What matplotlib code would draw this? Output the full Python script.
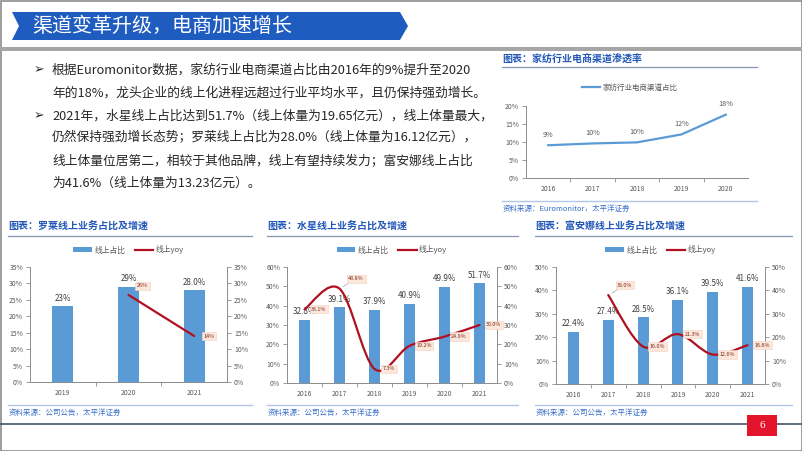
import matplotlib
matplotlib.use('Agg')
import matplotlib.pyplot as plt
from matplotlib.patches import Polygon, Rectangle, PathPatch
from matplotlib.path import Path
from matplotlib.lines import Line2D

plt.rcParams['font.family'] = ['Noto Sans CJK SC', 'DejaVu Sans']

W, H = 802, 451

# 数据
ind_years = ['2016', '2017', '2018', '2019', '2020']
ind_share = [9.1, 9.6, 9.9, 12.1, 17.6]

ll_years = ['2019', '2020', '2021']
ll_share = [23.0, 29.0, 28.0]
ll_share_lbl = ['23%', '29%', '28.0%']
ll_yoy = [None, 26.5, 14.0]
ll_yoy_lbl = ['', '26%', '14%']

sx_years = ['2016', '2017', '2018', '2019', '2020', '2021']
sx_share = [32.8, 39.1, 37.9, 40.9, 49.9, 51.7]
sx_share_lbl = ['32.8%', '39.1%', '37.9%', '40.9%', '49.9%', '51.7%']
sx_yoy = [38.1, 48.8, 7.3, 19.2, 24.0, 30.0]
sx_yoy_lbl = ['38.1%', '48.8%', '7.3%', '19.2%', '24.0%', '30.0%']

fa_years = ['2016', '2017', '2018', '2019', '2020', '2021']
fa_share = [22.4, 27.4, 28.5, 36.1, 39.5, 41.6]
fa_share_lbl = ['22.4%', '27.4%', '28.5%', '36.1%', '39.5%', '41.6%']
fa_yoy = [None, 38.0, 16.0, 21.3, 12.6, 16.6]
fa_yoy_lbl = ['', '38.0%', '16.0%', '21.3%', '12.6%', '16.6%']

bullet_lines = [
    (True, '根据Euromonitor数据，家纺行业电商渠道占比由2016年的9%提升至2020'),
    (False, '年的18%，龙头企业的线上化进程远超过行业平均水平，且仍保持强劲增长。'),
    (True, '2021年，水星线上占比达到51.7%（线上体量为19.65亿元），线上体量最大，'),
    (False, '仍然保持强劲增长态势；罗莱线上占比为28.0%（线上体量为16.12亿元），'),
    (False, '线上体量位居第二，相较于其他品牌，线上有望持续发力；富安娜线上占比'),
    (False, '为41.6%（线上体量为13.23亿元）。'),
]

BAR_C = '#5B9BD5'
LINE_C = '#B01020'
TITLE_C = '#2358B8'
SRC_C = '#3A6FC8'
TICK_C = '#595959'
AX_C = '#8C8C8C'

fig = plt.figure(figsize=(W / 100, H / 100), dpi=100)

# 背景层，像素坐标
bg = fig.add_axes([0, 0, 1, 1])
bg.set_xlim(0, W)
bg.set_ylim(H, 0)
bg.axis('off')
bg.set_zorder(-5)

bg.add_patch(Rectangle((0.5, 0.5), W - 1, H - 1, fill=False, ec='#8C8C8C', lw=1.2))
bg.add_patch(Polygon([(12, 12), (400, 12), (408, 26), (400, 40), (12, 40), (19, 26)],
                     closed=True, fc='#1F5CC0', ec='none'))
bg.text(32, 26, '渠道变革升级，电商加速增长', color='white', fontsize=14.4, va='center', ha='left')
bg.add_patch(Rectangle((0, 46.5), W, 4.3, fc='#A6A6A6', ec='none'))
bg.plot([0, W], [424, 424], color='#44546A', lw=1.2)

# 要点文字
ys = [70, 93, 116, 138, 161, 183]
for (has_bullet, txt), yy in zip(bullet_lines, ys):
    if has_bullet:
        bg.text(34, yy, '➢', fontsize=9, va='center', ha='left', color='#262626',
                family=['DejaVu Sans'])
    bg.text(52, yy, txt, fontsize=9.2, va='center', ha='left', color='#262626')

title_map = {
    (502, 59): '图表：家纺行业电商渠道渗透率',
    (8, 227): '图表：罗莱线上业务占比及增速',
    (267, 227): '图表：水星线上业务占比及增速',
    (535, 227): '图表：富安娜线上业务占比及增速',
}


# 图表标题、分隔线、来源
def chart_frame(x0, x1, ty, uy, sy, src):
    bg.text(x0, ty, title_map[(x0, ty)], fontsize=7.2, fontweight='bold', color=TITLE_C,
            va='center', ha='left')
    bg.plot([x0, x1], [uy, uy], color='#8497B0', lw=0.9)
    bg.plot([x0, x1], [sy, sy], color='#B4C6E7', lw=1.0)
    bg.text(x0 + 1, sy + 8, src, fontsize=5.4, color=SRC_C, style='italic', va='center', ha='left')


chart_frame(502, 757, 59, 67, 201, '资料来源：Euromonitor，太平洋证券')
chart_frame(8, 252, 227, 236, 405, '资料来源：公司公告，太平洋证券')
chart_frame(267, 518, 227, 236, 405, '资料来源：公司公告，太平洋证券')
chart_frame(535, 792, 227, 236, 405, '资料来源：公司公告，太平洋证券')

bg.add_patch(Rectangle((747, 415), 30, 21, fc='#E4142C', ec='none', zorder=5))
bg.text(762, 425.5, '6', color='white', fontsize=8, family=['Liberation Serif'],
        ha='center', va='center', zorder=6)


def px_axes(x0, y0, x1, y1):
    return fig.add_axes([x0 / W, 1 - y1 / H, (x1 - x0) / W, (y1 - y0) / H])


def pct_axis(ax, ymax, step):
    ticks = list(range(0, ymax + 1, step))
    ax.set_ylim(0, ymax)
    ax.set_yticks(ticks)
    ax.set_yticklabels([f'{t}%' for t in ticks])
    ax.tick_params(axis='y', length=3, width=0.6, color=AX_C, labelsize=4.9,
                   labelcolor=TICK_C, pad=2)


def cat_axis(ax, cats):
    n = len(cats)
    ax.set_xlim(-0.5, n - 0.5)
    ax.set_xticks(range(n))
    ax.set_xticklabels(cats)
    ax.set_xticks([i + 0.5 for i in range(n - 1)], minor=True)
    ax.tick_params(axis='x', which='major', length=0, labelsize=4.9, labelcolor=TICK_C, pad=5)
    ax.tick_params(axis='x', which='minor', length=3, width=0.6, color=AX_C)


def smooth_path(xs, vals):
    verts = [(xs[0], vals[0])]
    codes = [Path.MOVETO]
    n = len(xs)
    for i in range(n - 1):
        a = i - 1 if i > 0 else i
        d = i + 2 if i + 2 < n else i + 1
        c1 = (xs[i] + (xs[i + 1] - xs[a]) / 6, vals[i] + (vals[i + 1] - vals[a]) / 6)
        c2 = (xs[i + 1] - (xs[d] - xs[i]) / 6, vals[i + 1] - (vals[d] - vals[i]) / 6)
        verts += [c1, c2, (xs[i + 1], vals[i + 1])]
        codes += [Path.CURVE4] * 3
    return Path(verts, codes)


# 家纺行业电商渠道渗透率
ax0 = px_axes(526, 106, 748, 178)
ax0.plot(range(len(ind_share)), ind_share, color=BAR_C, lw=1.6)
pct_axis(ax0, 20, 5)
cat_axis(ax0, ind_years)
for s in ['top', 'right']:
    ax0.spines[s].set_visible(False)
for s in ['left', 'bottom']:
    ax0.spines[s].set_color(AX_C)
    ax0.spines[s].set_linewidth(0.7)
for i, v in enumerate(ind_share):
    ax0.annotate(f'{v:.0f}%', (i, v), xytext=(0, 7.5), textcoords='offset points',
                 ha='center', va='center', fontsize=5.2, color=TICK_C)
fig.legend(handles=[Line2D([], [], color=BAR_C, lw=1.6)], labels=['家纺行业电商渠道占比'],
           loc='center', bbox_to_anchor=(630 / W, 1 - 88 / H), frameon=False,
           fontsize=5.4, labelcolor=TICK_C, handlelength=2.4, handletextpad=0.3)


def combo(box, cats, share, share_lbl, yoy, yoy_lbl, ymax, step, lead_idx, up_idx):
    x0, y0, x1, y1 = box
    ax = px_axes(x0, y0, x1, y1)
    xs = list(range(len(cats)))
    ax.bar(xs, share, width=0.32, color=BAR_C, zorder=2)
    pct_axis(ax, ymax, step)
    cat_axis(ax, cats)
    ax.spines['top'].set_visible(False)
    ax.spines['right'].set_visible(False)
    for s in ['left', 'bottom']:
        ax.spines[s].set_color(AX_C)
        ax.spines[s].set_linewidth(0.7)
    for x, v, lb in zip(xs, share, share_lbl):
        ax.annotate(lb, (x, v), xytext=(0, 2.5), textcoords='offset points',
                    ha='center', va='bottom', fontsize=5.8, color='#404040')

    ax2 = ax.twinx()
    pct_axis(ax2, ymax, step)
    ax2.set_xlim(-0.5, len(cats) - 0.5)
    for s in ['top', 'left', 'bottom']:
        ax2.spines[s].set_visible(False)
    ax2.spines['right'].set_color(AX_C)
    ax2.spines['right'].set_linewidth(0.7)
    px = [x for x, v in zip(xs, yoy) if v is not None]
    pv = [v for v in yoy if v is not None]
    ax2.add_patch(PathPatch(smooth_path(px, pv), fill=False, ec=LINE_C, lw=1.6,
                            capstyle='round', zorder=3))
    box_style = dict(boxstyle='square,pad=0.3', fc='#FCE7DA', ec='#F2D3C4', lw=0.4)
    for x, v, lb in zip(xs, yoy, yoy_lbl):
        if v is None:
            continue
        if x == lead_idx:
            ax2.annotate(lb, (x, v), xytext=(12, 7), textcoords='offset points',
                         ha='center', va='center', fontsize=3.9, color='#7A2A1E',
                         bbox=box_style, zorder=5,
                         arrowprops=dict(arrowstyle='-', color='#A6A6A6', lw=0.5,
                                         shrinkA=0, shrinkB=3))
        elif x == up_idx:
            ax2.annotate(lb, (x, v), xytext=(10, 6.5), textcoords='offset points',
                         ha='center', va='center', fontsize=3.9, color='#7A2A1E',
                         bbox=box_style, zorder=5)
        else:
            ax2.annotate(lb, (x, v), xytext=(10.5, 0), textcoords='offset points',
                         ha='center', va='center', fontsize=3.9, color='#7A2A1E',
                         bbox=box_style, zorder=5)

    cx = (x0 + x1) / 2
    fig.legend(handles=[Rectangle((0, 0), 1, 1, fc=BAR_C, ec='none'),
                        Line2D([], [], color=LINE_C, lw=1.6)],
               labels=['线上占比', '线上yoy'], loc='center', ncol=2,
               bbox_to_anchor=(cx / W, 1 - 250 / H), frameon=False, fontsize=5.6,
               labelcolor=TICK_C, handlelength=2.4, handleheight=0.6,
               handletextpad=0.3, columnspacing=1.2)


combo((30, 267, 227, 382), ll_years, ll_share, ll_share_lbl, ll_yoy, ll_yoy_lbl,
      35, 5, None, 1)
combo((287, 267, 497, 383), sx_years, sx_share, sx_share_lbl, sx_yoy, sx_yoy_lbl,
      60, 10, 1, None)
combo((556, 267, 765, 384), fa_years, fa_share, fa_share_lbl, fa_yoy, fa_yoy_lbl,
      50, 10, 1, None)

fig.savefig('out.png', dpi=100)
